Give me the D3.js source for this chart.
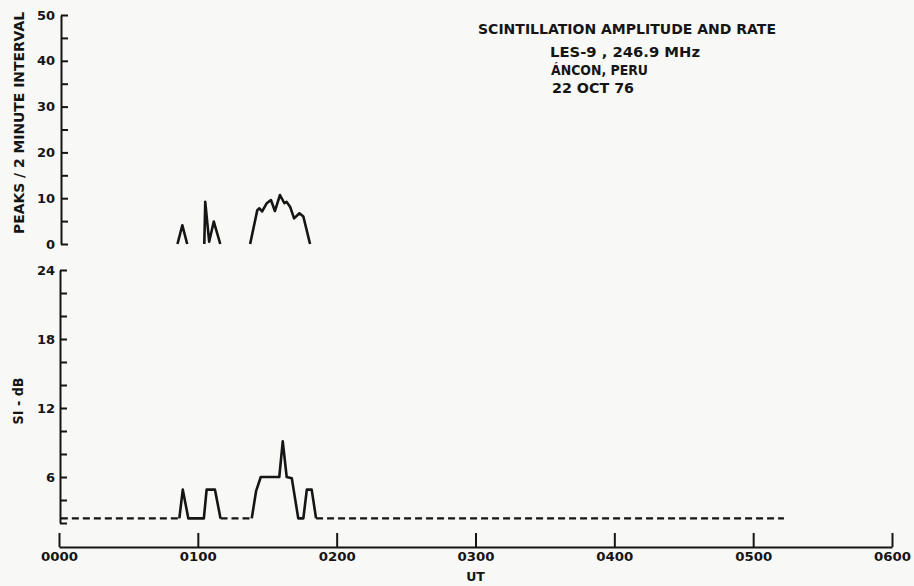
<!DOCTYPE html>
<html>
<head>
<meta charset="utf-8">
<script src="https://cdn.jsdelivr.net/npm/d3@7"></script>
<style>
  html, body { margin: 0; padding: 0; background: #f8f8f6; }
  svg { display: block; }
  text { font-family: "DejaVu Sans", sans-serif; font-weight: bold; fill: #151515; }
</style>
</head>
<body>
<svg id="chart" width="914" height="586"></svg>
<script>
// ---------- data ----------
const titleLines = ["SCINTILLATION AMPLITUDE AND RATE", "LES-9 , 246.9 MHz", "ÁNCON, PERU", "22 OCT 76"];
const hourLabels = ["0000", "0100", "0200", "0300", "0400", "0500", "0600"];
const hourMinutes = [0, 60, 120, 180, 240, 300, 360];

// scintillation rate (peaks per 2-minute interval); null = gap
const rateTime  = [51.2, 53.3, 55.4, null, 62.8, 63.2, 64.9, 66.9, 69.7, null,
                   82.6, 85.7, 86.6, 87.8, 89.8, 91.6, 93.3, 95.5, 97.4, 98.4, 99.9, 101.6, 103.9, 105.6, 108.5];
const rateValue = [0, 4.1, 0, null, 0, 9.2, 0.5, 4.9, 0, null,
                   0, 7.4, 7.8, 7.1, 8.9, 9.6, 7.2, 10.7, 8.9, 9.2, 8.1, 5.6, 6.7, 6.0, 0];

// scintillation index (dB); null = gap
const siTime  = [52.0, 53.5, 55.9, 62.6, 63.8, 67.4, 69.8, null,
                 83.3, 85.2, 87.2, 95.2, 96.7, 98.4, 100.6, 103.4, 105.6, 107.1, 109.2, 111.1];
const siValue = [2.4, 4.9, 2.4, 2.4, 4.9, 4.9, 2.4, null,
                 2.4, 4.8, 6.0, 6.0, 9.1, 6.0, 5.9, 2.4, 2.4, 4.9, 4.9, 2.4];

// noise-level (dashed) stretches
const noiseStart = [0.8, 69.8, 111.1];
const noiseEnd   = [52.0, 83.3, 313.3];
const noiseLevel = 2.4;

const rateTicks = [0, 5, 10, 15, 20, 25, 30, 35, 40, 45, 50];
const siTicks = [2, 4, 6, 8, 10, 12, 14, 16, 18, 20, 22, 24];

// ---------- drawing ----------
const svg = d3.select("#chart");
const ink = "#151515";

const x = d3.scaleLinear().domain([0, 360]).range([59, 892]);
const yRate = d3.scaleLinear().domain([0, 50]).range([244, 15]);
const ySI = d3.scaleLinear().domain([2, 24]).range([523, 270]);

function styleAxis(g) {
  g.select(".domain").attr("stroke", ink).attr("stroke-width", 2);
  g.selectAll(".tick line").attr("stroke", ink).attr("stroke-width", 2);
  g.selectAll(".tick text").attr("font-family", "DejaVu Sans").attr("font-weight", "bold")
    .attr("font-size", 13).attr("fill", ink);
}

// top axis
svg.append("g").attr("transform", "translate(61,0)")
  .call(d3.axisLeft(yRate).tickValues(rateTicks).tickSizeInner(-7).tickSizeOuter(0).tickPadding(6)
    .tickFormat(d => d % 10 === 0 ? String(d) : ""))
  .call(styleAxis);

// bottom axis
svg.append("g").attr("transform", "translate(60,0)")
  .call(d3.axisLeft(ySI).tickValues(siTicks).tickSizeInner(-7).tickSizeOuter(0).tickPadding(5)
    .tickFormat(d => d % 6 === 0 ? String(d) : ""))
  .call(styleAxis);

// time axis
const xAxisG = svg.append("g").attr("transform", "translate(0,547)")
  .call(d3.axisBottom(x).tickValues(hourMinutes).tickSizeInner(-14).tickSizeOuter(0).tickPadding(5)
    .tickFormat((d, i) => hourLabels[i]))
  .call(styleAxis);
xAxisG.selectAll(".tick text").attr("textLength", 37).attr("lengthAdjust", "spacingAndGlyphs");

// rate line
const rateData = rateTime.map((t, i) => ({ t, v: rateValue[i] }));
svg.append("path")
  .datum(rateData)
  .attr("fill", "none").attr("stroke", ink).attr("stroke-width", 2.6)
  .attr("stroke-linejoin", "round")
  .attr("d", d3.line().defined(d => d.t !== null && d.v !== null)
    .x(d => x(d.t)).y(d => yRate(d.v)));

// SI noise level dashed
noiseStart.forEach((s, i) => {
  svg.append("path")
    .datum([{ t: s, v: noiseLevel }, { t: noiseEnd[i], v: noiseLevel }])
    .attr("fill", "none").attr("stroke", ink).attr("stroke-width", 2.2)
    .attr("stroke-dasharray", "7,4")
    .attr("d", d3.line().x(d => x(d.t)).y(d => ySI(d.v)));
});

// SI solid line
const siData = siTime.map((t, i) => ({ t, v: siValue[i] }));
svg.append("path")
  .datum(siData)
  .attr("fill", "none").attr("stroke", ink).attr("stroke-width", 2.6)
  .attr("stroke-linejoin", "round")
  .attr("d", d3.line().defined(d => d.t !== null && d.v !== null)
    .x(d => x(d.t)).y(d => ySI(d.v)));

// axis titles
svg.append("text")
  .attr("transform", "translate(23.5,123) rotate(-90)")
  .attr("text-anchor", "middle").attr("font-size", 13.5)
  .attr("textLength", 222).attr("lengthAdjust", "spacingAndGlyphs")
  .text("PEAKS / 2 MINUTE INTERVAL");

svg.append("text")
  .attr("transform", "translate(22.5,401) rotate(-90)")
  .attr("text-anchor", "middle").attr("font-size", 13.5)
  .attr("textLength", 47).attr("lengthAdjust", "spacingAndGlyphs")
  .text("SI - dB");

svg.append("text")
  .attr("x", x(180)).attr("y", 581)
  .attr("text-anchor", "middle").attr("font-size", 12.5)
  .text("UT");

// title block
const titleX = [478, 550, 551, 552];
const titleY = [34, 57, 75, 93];
const titleW = [298, 150, 97, 82];
titleLines.forEach((s, i) => {
  svg.append("text")
    .attr("x", titleX[i]).attr("y", titleY[i])
    .attr("font-size", 14.5)
    .attr("textLength", titleW[i]).attr("lengthAdjust", "spacingAndGlyphs")
    .text(s);
});
</script>
</body>
</html>
